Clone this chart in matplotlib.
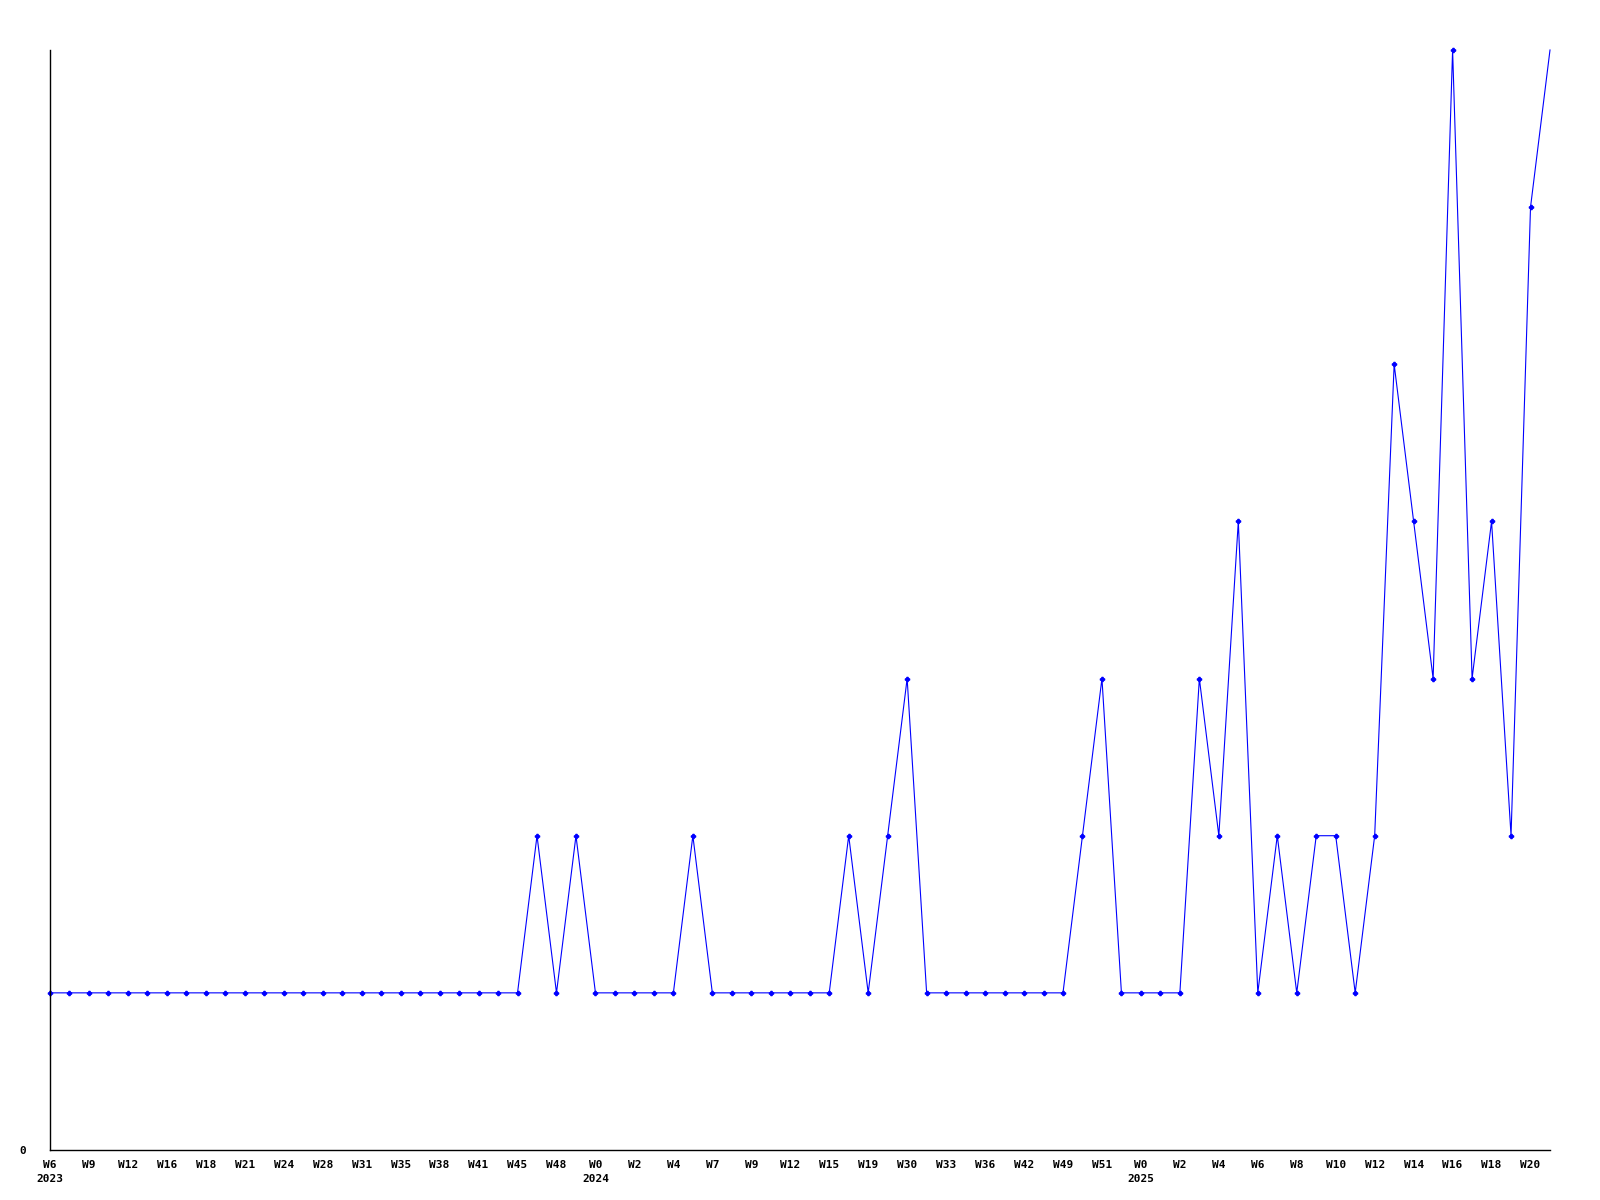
import matplotlib
matplotlib.use("Agg")
import matplotlib.pyplot as plt

# weekly counts, one point per week that has data
values = [1, 1, 1, 1, 1, 1, 1, 1, 1, 1, 1, 1, 1, 1, 1, 1, 1, 1, 1, 1,
          1, 1, 1, 1, 1, 2, 1, 2, 1, 1, 1, 1, 1, 2, 1, 1, 1, 1, 1, 1,
          1, 2, 1, 2, 3, 1, 1, 1, 1, 1, 1, 1, 1, 2, 3, 1, 1, 1, 1, 3,
          2, 4, 1, 2, 1, 2, 2, 1, 2, 5, 4, 3, 7, 3, 4, 2, 6, 7]

# labels shown on every second point
week_labels = ["W6", "W9", "W12", "W16", "W18", "W21", "W24", "W28", "W31", "W35",
               "W38", "W41", "W45", "W48",
               "W0", "W2", "W4", "W7", "W9", "W12", "W15", "W19", "W30", "W33",
               "W36", "W42", "W49", "W51",
               "W0", "W2", "W4", "W6", "W8", "W10", "W12", "W14", "W16", "W18", "W20"]
year_labels = {0: "2023", 14: "2024", 28: "2025"}

plt.rcParams["font.family"] = "DejaVu Sans Mono"
plt.rcParams["font.weight"] = "bold"
plt.rcParams["font.size"] = 8

fig = plt.figure(figsize=(16, 12), dpi=100, facecolor="white")
ax = fig.add_axes([50 / 1600, 50 / 1200, 1500 / 1600, 1100 / 1200])

x = list(range(len(values)))
ax.plot(x, values, color="#0000ff", linewidth=0.8, marker="P", markersize=3,
        markevery=list(range(len(values) - 1)), clip_on=False)

ax.set_xlim(0, len(values) - 1)
ax.set_ylim(0, 7)

ticks = list(range(0, len(values), 2))
labels = []
for k, w in enumerate(week_labels):
    labels.append(w + "\n" + year_labels[k] if k in year_labels else w + "\n")
ax.set_xticks(ticks)
ax.set_xticklabels(labels, linespacing=1.5, ha="center")
for t in ax.get_xticklabels():
    t.set_x(t.get_position()[0])
ax.tick_params(axis="x", length=0, pad=7)
ax.set_yticks([0])
ax.set_yticklabels(["0"])
ax.tick_params(axis="y", length=0, pad=17)

ax.spines["top"].set_visible(False)
ax.spines["right"].set_visible(False)
ax.spines["left"].set_linewidth(1)
ax.spines["bottom"].set_linewidth(1)

fig.savefig("out.png", dpi=100, facecolor="white")
